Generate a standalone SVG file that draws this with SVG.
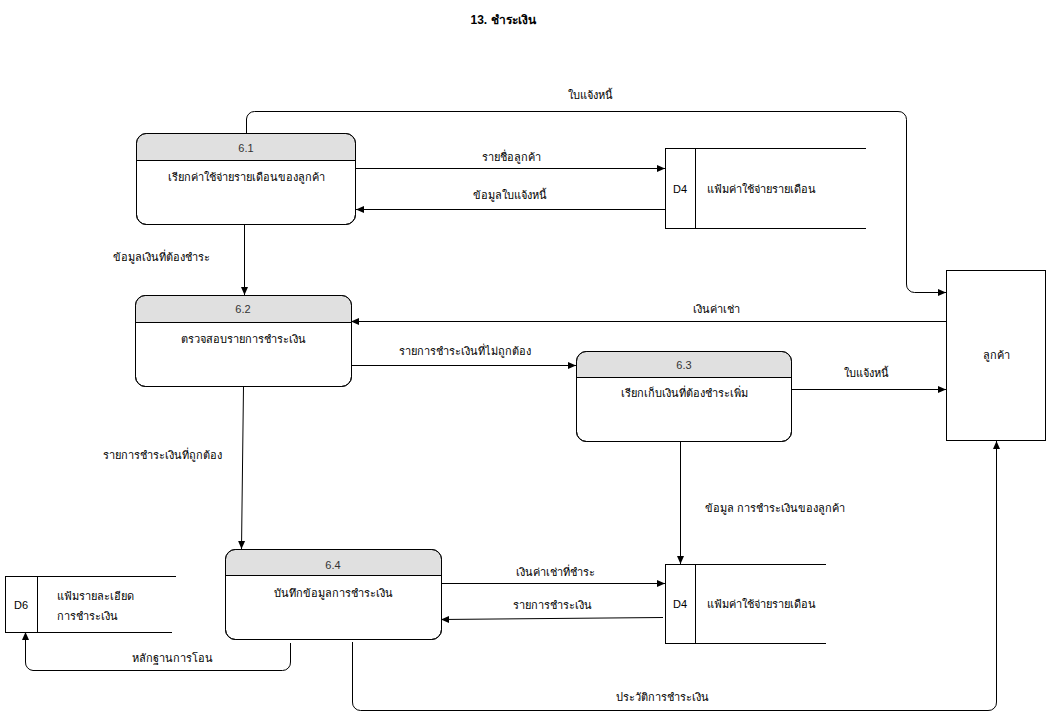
<svg xmlns="http://www.w3.org/2000/svg" width="1052" height="724" viewBox="0 0 1052 724">
<style>
text{font-family:"Liberation Sans","Noto Sans",sans-serif;font-size:11px;fill:#000}
.c{text-anchor:middle}
.t{font-weight:bold;font-size:12px}
.box{fill:#fff;stroke:#000;stroke-width:1}
.hd{fill:#e0e0e0;stroke:none}
.ln{fill:none;stroke:#000;stroke-width:1}
.num{fill:#333}
</style>
<defs>
<marker id="ar" markerWidth="10" markerHeight="8" refX="8" refY="4" orient="auto" markerUnits="userSpaceOnUse">
<path d="M0,0.5 L8,4 L0,7.5 Z" fill="#000"/>
</marker>
</defs>
<rect width="1052" height="724" fill="#fff"/>
<text class="c t" x="503" y="24">13. ชำระเงิน</text>

<g id="p61">
<rect class="box" x="136.5" y="133.5" width="219" height="91" rx="10"/>
<path class="hd" d="M137,160 V143.5 A9.5 9.5 0 0 1 146.5,134 H345.5 A9.5 9.5 0 0 1 355,143.5 V160 Z"/>
<line class="ln" x1="136.5" y1="160.5" x2="355.5" y2="160.5"/>
<rect class="ln" x="136.5" y="133.5" width="219" height="91" rx="10"/>
<text class="c num" x="246" y="152">6.1</text>
<text class="c" x="246" y="181">เรียกค่าใช้จ่ายรายเดือนของลูกค้า</text>
</g>

<g id="p62">
<rect class="box" x="135.5" y="295.5" width="216" height="91" rx="10"/>
<path class="hd" d="M136,322 V305.5 A9.5 9.5 0 0 1 145.5,296 H341.5 A9.5 9.5 0 0 1 351,305.5 V322 Z"/>
<line class="ln" x1="135.5" y1="322.5" x2="351.5" y2="322.5"/>
<rect class="ln" x="135.5" y="295.5" width="216" height="91" rx="10"/>
<text class="c num" x="243" y="313">6.2</text>
<text class="c" x="243" y="343">ตรวจสอบรายการชำระเงิน</text>
</g>

<g id="p63">
<rect class="box" x="576.5" y="351.5" width="215" height="90" rx="10"/>
<path class="hd" d="M577,377 V361.5 A9.5 9.5 0 0 1 586.5,352 H781.5 A9.5 9.5 0 0 1 791,361.5 V377 Z"/>
<line class="ln" x1="576.5" y1="377.5" x2="791.5" y2="377.5"/>
<rect class="ln" x="576.5" y="351.5" width="215" height="90" rx="10"/>
<text class="c num" x="684" y="369">6.3</text>
<text class="c" x="684" y="397">เรียกเก็บเงินที่ต้องชำระเพิ่ม</text>
</g>

<g id="p64">
<rect class="box" x="225.5" y="549.5" width="216" height="90" rx="10"/>
<path class="hd" d="M226,575 V559.5 A9.5 9.5 0 0 1 235.5,550 H431.5 A9.5 9.5 0 0 1 441,559.5 V575 Z"/>
<line class="ln" x1="225.5" y1="575.5" x2="441.5" y2="575.5"/>
<rect class="ln" x="225.5" y="549.5" width="216" height="90" rx="10"/>
<text class="c num" x="333" y="569">6.4</text>
<text class="c" x="333" y="597">บันทึกข้อมูลการชำระเงิน</text>
</g>

<g id="d4a">
<rect class="box" x="665.5" y="148.5" width="30" height="80"/>
<line class="ln" x1="695.5" y1="148.5" x2="866" y2="148.5"/>
<line class="ln" x1="695.5" y1="228.5" x2="866" y2="228.5"/>
<text class="c" x="680" y="193">D4</text>
<text x="707" y="193">แฟ้มค่าใช้จ่ายรายเดือน</text>
</g>

<g id="d4b">
<rect class="box" x="665.5" y="564.5" width="30" height="79"/>
<line class="ln" x1="695.5" y1="564.5" x2="826" y2="564.5"/>
<line class="ln" x1="695.5" y1="643.5" x2="826" y2="643.5"/>
<text class="c" x="680" y="608">D4</text>
<text x="707" y="608">แฟ้มค่าใช้จ่ายรายเดือน</text>
</g>

<g id="d6">
<rect class="box" x="5.5" y="576.5" width="32" height="56"/>
<line class="ln" x1="37.5" y1="576.5" x2="176" y2="576.5"/>
<line class="ln" x1="37.5" y1="632.5" x2="172" y2="632.5"/>
<text class="c" x="21" y="609">D6</text>
<text x="57" y="600">แฟ้มรายละเอียด</text>
<text x="57" y="620">การชำระเงิน</text>
</g>

<g id="customer">
<rect class="box" x="946.5" y="270.5" width="99" height="170"/>
<text class="c" x="996" y="359">ลูกค้า</text>
</g>

<g id="connectors">
<path class="ln" d="M246.5,133 V119 A8 8 0 0 1 254.5,111.5 H898 A8 8 0 0 1 906.5,119.5 V284 A8 8 0 0 0 914.5,292.5 H946" marker-end="url(#ar)"/>
<text class="c" x="590" y="99">ใบแจ้งหนี้</text>

<path class="ln" d="M356,168.5 H665" marker-end="url(#ar)"/>
<text class="c" x="511" y="161">รายชื่อลูกค้า</text>

<path class="ln" d="M665,209.5 H356" marker-end="url(#ar)"/>
<text class="c" x="510" y="199">ข้อมูลใบแจ้งหนี้</text>

<path class="ln" d="M244.5,224 V295" marker-end="url(#ar)"/>
<text class="c" x="161" y="261">ข้อมูลเงินที่ต้องชำระ</text>

<path class="ln" d="M946,321.5 H351" marker-end="url(#ar)"/>
<text class="c" x="716" y="313">เงินค่าเช่า</text>

<path class="ln" d="M351,365.5 H576" marker-end="url(#ar)"/>
<text class="c" x="465" y="355">รายการชำระเงินที่ไม่ถูกต้อง</text>

<path class="ln" d="M791,389.5 H946" marker-end="url(#ar)"/>
<text class="c" x="866" y="377">ใบแจ้งหนี้</text>

<path class="ln" d="M243.5,386 L241.5,549" marker-end="url(#ar)"/>
<text class="c" x="162" y="459">รายการชำระเงินที่ถูกต้อง</text>

<path class="ln" d="M680.5,441 V564" marker-end="url(#ar)"/>
<text class="c" x="775" y="512">ข้อมูล การชำระเงินของลูกค้า</text>

<path class="ln" d="M441,583.5 H665" marker-end="url(#ar)"/>
<text class="c" x="555" y="576">เงินค่าเช่าที่ชำระ</text>

<path class="ln" d="M663,617.5 L441,619.5" marker-end="url(#ar)"/>
<text class="c" x="552" y="609">รายการชำระเงิน</text>

<path class="ln" d="M290.5,643 V662 A8 8 0 0 1 282.5,670.5 H33 A8 8 0 0 1 25.5,662 V632" marker-end="url(#ar)"/>
<text class="c" x="172" y="662">หลักฐานการโอน</text>

<path class="ln" d="M352.5,642 V702 A8 8 0 0 0 360.5,710.5 H988 A8 8 0 0 0 996.5,702 V441" marker-end="url(#ar)"/>
<text class="c" x="662" y="701">ประวัติการชำระเงิน</text>
</g>
</svg>
